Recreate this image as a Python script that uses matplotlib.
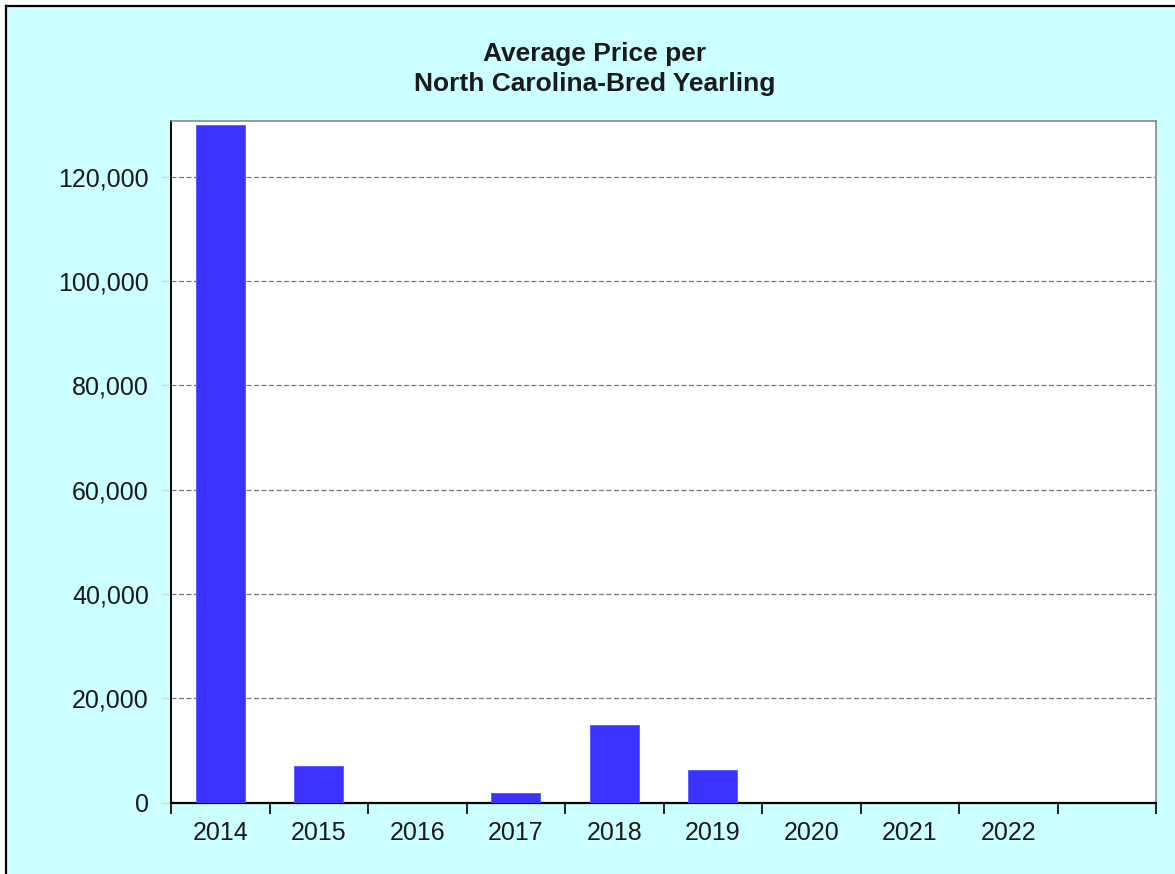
import matplotlib
matplotlib.use("Agg")
import matplotlib.pyplot as plt
from matplotlib.patches import Rectangle
from matplotlib.lines import Line2D
from matplotlib.ticker import FuncFormatter, FixedLocator
import numpy as np

plt.rcParams['font.family'] = ['Liberation Sans', 'DejaVu Sans']

years = ["2014", "2015", "2016", "2017", "2018", "2019", "2020", "2021", "2022"]
avg_price = [129900, 7000, 0, 1900, 14900, 6300, 0, 0, 0]
n_slots = 10
y_ticks = [0, 20000, 40000, 60000, 80000, 100000, 120000]
y_max = 130700
title = "Average Price per\nNorth Carolina-Bred Yearling"

W, H = 1175, 874
fig = plt.figure(figsize=(W / 100, H / 100), dpi=100, facecolor='white')

bg = Rectangle((6 / W, 0), 1 - 6 / W, 1 - 6 / H, transform=fig.transFigure,
               facecolor='#ccffff', edgecolor='none', zorder=-10)
fig.patches.append(bg)
fig.lines.append(Line2D([6 / W, 6 / W], [0, 1 - 6 / H], transform=fig.transFigure,
                        color='black', lw=1.6))
fig.lines.append(Line2D([6 / W, 1], [1 - 6 / H, 1 - 6 / H], transform=fig.transFigure,
                        color='black', lw=1.6))

ax = fig.add_axes([171 / W, (H - 802.7) / H, (1156 - 171) / W, (802.7 - 120.7) / H])
ax.set_facecolor('white')

x = np.arange(len(years)) + 0.5
ax.bar(x, avg_price, width=0.5, color='#3a32ff', edgecolor='#5b55ff', linewidth=0.6, zorder=3)

ax.set_xlim(0, n_slots)
ax.set_ylim(0, y_max)

ax.xaxis.set_major_locator(FixedLocator(np.arange(n_slots + 1)))
ax.xaxis.set_minor_locator(FixedLocator(x))
ax.set_xticklabels([])
ax.set_xticklabels(years, minor=True)
ax.tick_params(axis='x', which='major', length=8, width=1.2, color='black', direction='out')
ax.tick_params(axis='x', which='minor', length=0, pad=13, labelsize=18, labelcolor='#1a1a1a')

ax.yaxis.set_major_locator(FixedLocator(y_ticks))
ax.yaxis.set_major_formatter(FuncFormatter(lambda v, p: f"{int(v):,}"))
ax.tick_params(axis='y', length=7, width=1, color='#d8d8d8', pad=9, labelsize=18,
               labelcolor='#1a1a1a')

for yv in y_ticks[1:]:
    ax.axhline(yv, color='#777777', lw=0.9, ls=(0, (4, 2)), zorder=1)

for s in ['top', 'right']:
    ax.spines[s].set_color('#888888')
    ax.spines[s].set_linewidth(1.2)
ax.spines['left'].set_color('black')
ax.spines['left'].set_linewidth(1.4)
ax.spines['bottom'].set_color('black')
ax.spines['bottom'].set_linewidth(1.6)

fig.text(595 / W, 1 - 42 / H, title, ha='center', va='top', fontsize=19,
         fontweight='bold', color='#1a1a1a', linespacing=1.3)

fig.savefig("out.png", dpi=100, facecolor=fig.get_facecolor())
